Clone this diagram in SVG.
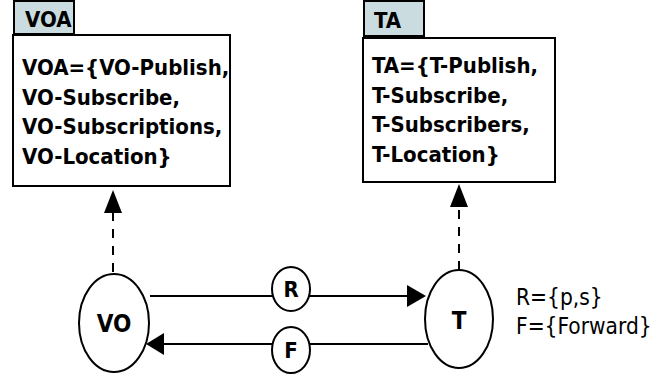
<svg xmlns="http://www.w3.org/2000/svg" width="671" height="377" viewBox="0 0 671 377">
<style>
.box{fill:#fff;stroke:#000;stroke-width:2}
.tab{fill:#cadcdf;stroke:#000;stroke-width:2}
.node{fill:#fff;stroke:#000;stroke-width:2}
.b{font-family:"DejaVu Sans Condensed","DejaVu Sans",sans-serif;font-stretch:condensed;font-weight:bold;font-size:22px;fill:#000}
.big{font-size:24px}
.r{font-family:"DejaVu Sans Condensed","DejaVu Sans",sans-serif;font-stretch:condensed;font-size:22.5px;fill:#000}
.c{text-anchor:middle}
.ln{stroke:#000;stroke-width:2;fill:none}
.dash{stroke:#000;stroke-width:2;fill:none;stroke-dasharray:9,8}
</style>
<g id="connectors">
<line class="dash" x1="113" y1="272" x2="113" y2="212"/>
<path d="M113,190 L104,213 L122,213 Z" fill="#000"/>
<line class="dash" x1="459" y1="270" x2="459" y2="206"/>
<path d="M459,184 L450,207 L468,207 Z" fill="#000"/>
<line class="ln" x1="150" y1="296" x2="408" y2="296"/>
<path d="M426,296 L407,285 L407,307 Z" fill="#000"/>
<line class="ln" x1="428" y1="344" x2="163" y2="344"/>
<path d="M146,344 L164,333 L164,355 Z" fill="#000"/>
</g>
<g id="VOA">
<rect class="tab" x="14" y="1" width="60" height="33"/>
<text class="b" x="25" y="27">VOA</text>
<rect class="box" x="13" y="35" width="217" height="151"/>
<text class="b" x="22" y="75">VOA={VO-Publish,</text>
<text class="b" x="22" y="105">VO-Subscribe,</text>
<text class="b" x="22" y="134">VO-Subscriptions,</text>
<text class="b" x="22" y="164">VO-Location}</text>
</g>
<g id="TA">
<rect class="tab" x="364" y="1" width="60" height="35"/>
<text class="b" x="374" y="28">TA</text>
<rect class="box" x="363" y="38" width="192" height="144"/>
<text class="b" x="372" y="73">TA={T-Publish,</text>
<text class="b" x="372" y="103">T-Subscribe,</text>
<text class="b" x="372" y="132">T-Subscribers,</text>
<text class="b" x="372" y="162">T-Location}</text>
</g>
<g id="VO">
<ellipse class="node" cx="114" cy="323" rx="35" ry="49"/>
<text class="b big c" x="114" y="332">VO</text>
</g>
<g id="T">
<ellipse class="node" cx="459" cy="319" rx="34" ry="49"/>
<text class="b big c" x="459" y="329">T</text>
</g>
<g id="R">
<ellipse class="node" cx="291" cy="289" rx="19" ry="22"/>
<text class="b c" x="291" y="297">R</text>
</g>
<g id="F">
<ellipse class="node" cx="291" cy="350" rx="19" ry="23"/>
<text class="b c" x="291" y="358">F</text>
</g>
<g id="legend">
<text class="r" x="516" y="305">R={p,s}</text>
<text class="r" x="516" y="334">F={Forward}</text>
</g>
</svg>
